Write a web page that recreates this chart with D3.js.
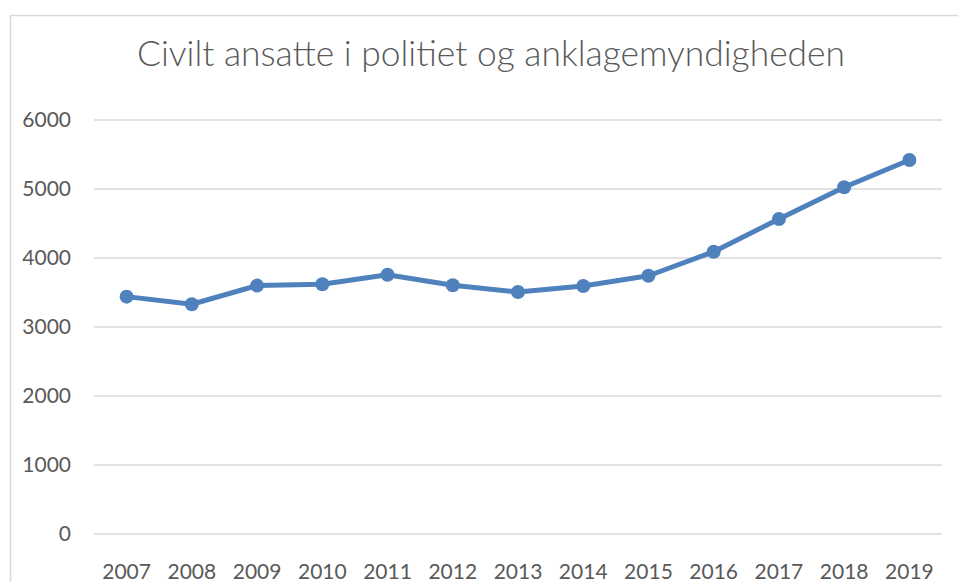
<!DOCTYPE html>
<html>
<head>
<meta charset="utf-8">
<script src="https://cdn.jsdelivr.net/npm/d3@7"></script>
<style>
  body { margin: 0; background: #fff; }
  svg { display: block; }
</style>
</head>
<body>
<svg id="canvas" width="958" height="582"></svg>
<script>
// data
let years = ['2007','2008','2009','2010','2011','2012','2013','2014','2015','2016','2017','2018','2019']
let ansatte = [3440, 3330, 3600, 3620, 3758, 3604, 3507, 3594, 3743, 4091, 4565, 5025, 5420]
let yTicks = [0, 1000, 2000, 3000, 4000, 5000, 6000]
let title = 'Civilt ansatte i politiet og anklagemyndigheden'

let canvas = d3.select('#canvas')
let font = 'Lato, "Open Sans", sans-serif'
let grey = '#595959'
let blue = '#4f81bd'

// chart frame (runs off the right and bottom edge)
canvas.append('rect')
  .attr('x', 10.5).attr('y', 15.5)
  .attr('width', 1000).attr('height', 700)
  .attr('fill', 'none')
  .attr('stroke', '#d9d9d9')
  .attr('stroke-width', 1.5)

canvas.append('text')
  .attr('x', 491).attr('y', 66)
  .attr('text-anchor', 'middle')
  .attr('font-family', font)
  .attr('font-weight', 300)
  .attr('font-size', 35)
  .attr('fill', grey)
  .attr('textLength', 708)
  .attr('lengthAdjust', 'spacingAndGlyphs')
  .text(title)

let x = d3.scaleBand().domain(years).range([94, 942])
let y = d3.scaleLinear().domain([0, 6000]).range([534, 120])

// gridlines
canvas.append('g')
  .selectAll('line')
  .data(yTicks)
  .enter()
  .append('line')
  .attr('x1', 94).attr('x2', 942)
  .attr('y1', d => y(d)).attr('y2', d => y(d))
  .attr('stroke', '#d9d9d9')
  .attr('stroke-width', 1.5)

// y labels
let yAxis = canvas.append('g')
  .attr('transform', 'translate(76,0)')
  .call(d3.axisLeft(y).tickValues(yTicks).tickSize(0).tickPadding(5).tickFormat(d3.format('d')))
yAxis.select('.domain').remove()
yAxis.selectAll('text')
  .attr('font-family', font)
  .attr('font-size', 21)
  .attr('fill', grey)

// x labels
let xAxis = canvas.append('g')
  .attr('transform', 'translate(0,564)')
  .call(d3.axisBottom(x).tickSize(0).tickPadding(0))
xAxis.select('.domain').remove()
xAxis.selectAll('text')
  .attr('font-family', font)
  .attr('font-size', 21)
  .attr('fill', grey)

let points = years.map((yr, i) => ({ year: yr, value: ansatte[i] }))
let cx = d => x(d.year) + x.bandwidth() / 2

canvas.append('path')
  .datum(points)
  .attr('d', d3.line().x(cx).y(d => y(d.value)))
  .attr('fill', 'none')
  .attr('stroke', blue)
  .attr('stroke-width', 5)
  .attr('stroke-linejoin', 'round')

canvas.append('g')
  .selectAll('circle')
  .data(points)
  .enter()
  .append('circle')
  .attr('cx', cx)
  .attr('cy', d => y(d.value))
  .attr('r', 7)
  .attr('fill', blue)
</script>
</body>
</html>
